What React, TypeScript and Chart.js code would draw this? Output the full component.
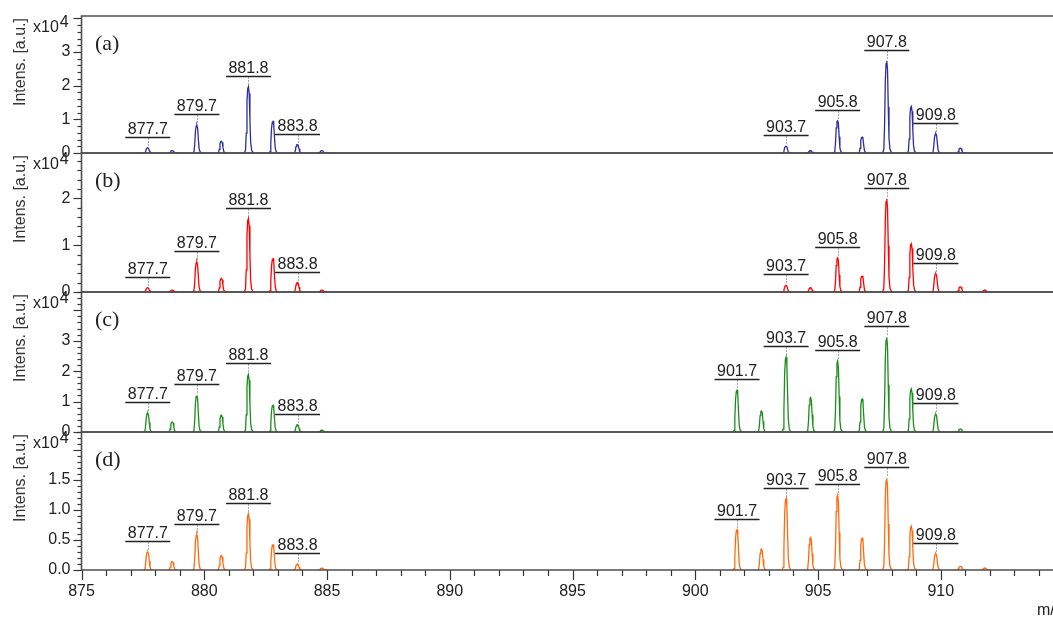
import React, { useEffect, useRef } from "react";
import { Chart, registerables } from "chart.js";

Chart.register(...registerables);

// m/z of every isotope peak in the two clusters
const PEAK_MZ = [
  877.7, 878.7, 879.7, 880.7, 881.8, 882.8, 883.8, 884.8,
  901.7, 902.7, 903.7, 904.7, 905.8, 906.8, 907.8, 908.8, 909.8, 910.8, 911.8,
];

// Peak intensities in units of 10^4 a.u., one entry per PEAK_MZ value
const INTENS_A = [0.15, 0.07, 0.82, 0.35, 1.97, 0.94, 0.25, 0.07, 0, 0, 0.2, 0.07, 0.96, 0.47, 2.74, 1.38, 0.57, 0.14, 0];
const INTENS_B = [0.09, 0.04, 0.64, 0.29, 1.57, 0.71, 0.2, 0.04, 0, 0, 0.14, 0.09, 0.73, 0.34, 1.99, 1.03, 0.39, 0.11, 0.04];
const INTENS_C = [0.62, 0.33, 1.2, 0.55, 1.89, 0.88, 0.24, 0.06, 1.37, 0.69, 2.46, 1.13, 2.33, 1.08, 3.11, 1.42, 0.58, 0.1, 0];
const INTENS_D = [0.3, 0.14, 0.59, 0.24, 0.94, 0.42, 0.1, 0.03, 0.67, 0.35, 1.19, 0.54, 1.25, 0.53, 1.53, 0.73, 0.27, 0.06, 0.03];

// Peaks that carry an m/z annotation
const LABELED_AB = [877.7, 879.7, 881.8, 883.8, 903.7, 905.8, 907.8, 909.8];
const LABELED_CD = [877.7, 879.7, 881.8, 883.8, 901.7, 903.7, 905.8, 907.8, 909.8];

// Axis tick labels
const X_TICK_LABELS = ["875", "880", "885", "890", "895", "900", "905", "910"];
const Y_TICK_LABELS_A = ["0", "1", "2", "3"];
const Y_TICK_LABELS_B = ["0", "1", "2"];
const Y_TICK_LABELS_C = ["0", "1", "2", "3"];
const Y_TICK_LABELS_D = ["0.0", "0.5", "1.0", "1.5"];

// Instrument peak profile around a centroid: m/z offset and fraction of apex height
const PEAK_SHAPE_DX = [-0.17, -0.12, -0.09, -0.06, -0.03, 0, 0.03, 0.06, 0.09, 0.13, 0.2];
const PEAK_SHAPE_REL = [0, 0.04, 0.3, 0.78, 0.97, 1, 0.9, 0.5, 0.16, 0.04, 0];

const X_MIN = 875;
const X_MAX = 914.57;

const SANS = "'Liberation Sans', Arial, sans-serif";
const SERIF = "'Liberation Serif', 'Times New Roman', serif";
const INK = "#222222";
const FRAME = "#4f4f4f";

type Panel = {
  id: string;
  tag: string;
  intens: number[];
  labeled: number[];
  tickLabels: string[];
  max: number;
  step: number;
  major: number;
  color: string;
  stackWeight: number;
  weight: number;
};

const PANELS: Panel[] = [
  { id: "yA", tag: "(a)", intens: INTENS_A, labeled: LABELED_AB, tickLabels: Y_TICK_LABELS_A, max: 4.07, step: 0.2, major: 1, color: "#2d2d9a", stackWeight: 137, weight: 4 },
  { id: "yB", tag: "(b)", intens: INTENS_B, labeled: LABELED_AB, tickLabels: Y_TICK_LABELS_B, max: 2.97, step: 0.2, major: 1, color: "#ff0000", stackWeight: 139, weight: 3 },
  { id: "yC", tag: "(c)", intens: INTENS_C, labeled: LABELED_CD, tickLabels: Y_TICK_LABELS_C, max: 4.6, step: 0.2, major: 1, color: "#1c8c1c", stackWeight: 140, weight: 2 },
  { id: "yD", tag: "(d)", intens: INTENS_D, labeled: LABELED_CD, tickLabels: Y_TICK_LABELS_D, max: 2.3, step: 0.1, major: 0.5, color: "#ff6a0e", stackWeight: 138, weight: 1 },
];

const near = (a: number, b: number) => Math.abs(a - b) < 1e-6;
const isMultiple = (v: number, m: number) => near(v / m, Math.round(v / m));

function profilePoints(intens: number[]) {
  const pts: { x: number; y: number | null }[] = [];
  PEAK_MZ.forEach((mz, i) => {
    const h = intens[i];
    if (!h) return;
    PEAK_SHAPE_DX.forEach((dx, k) => pts.push({ x: mz + dx, y: h * PEAK_SHAPE_REL[k] }));
    pts.push({ x: mz + 0.3, y: null });
  });
  return pts;
}

const decorPlugin = {
  id: "spectrumDecor",
  afterDatasetsDraw(chart: any) {
    const { ctx, chartArea } = chart;
    const xs = chart.scales.x;
    ctx.save();

    // x-axis tick marks (major every 5, minor every 1)
    ctx.strokeStyle = "#333";
    ctx.lineWidth = 1.2;
    xs.ticks.forEach((t: any) => {
      const px = Math.round(xs.getPixelForValue(t.value)) + 0.5;
      const len = isMultiple(t.value, 5) ? 10 : 6;
      ctx.beginPath();
      ctx.moveTo(px, chartArea.bottom);
      ctx.lineTo(px, chartArea.bottom + len);
      ctx.stroke();
    });

    PANELS.forEach((p) => {
      const ys = chart.scales[p.id];
      const left = chartArea.left;

      // y-axis tick marks
      ctx.strokeStyle = "#333";
      ctx.lineWidth = 1.2;
      ys.ticks.forEach((t: any) => {
        const py = Math.round(ys.getPixelForValue(t.value)) + 0.5;
        const len = isMultiple(t.value, p.major) ? 8 : 4;
        ctx.beginPath();
        ctx.moveTo(left - len, py);
        ctx.lineTo(left, py);
        ctx.stroke();
      });

      // panel frame
      ctx.strokeStyle = FRAME;
      ctx.lineWidth = 1.6;
      ctx.beginPath();
      ctx.moveTo(chartArea.right + 5, ys.top);
      ctx.lineTo(left, ys.top);
      ctx.lineTo(left, ys.bottom);
      ctx.lineTo(chartArea.right + 5, ys.bottom);
      ctx.stroke();

      // peak annotations
      p.labeled.forEach((mz) => {
        const idx = PEAK_MZ.findIndex((m) => near(m, mz));
        const h = p.intens[idx];
        const px = xs.getPixelForValue(mz);
        const apex = ys.getPixelForValue(h);
        const lineY = Math.round(apex - 11) + 0.5;
        ctx.setLineDash([1, 2]);
        ctx.strokeStyle = "#555";
        ctx.lineWidth = 1;
        ctx.beginPath();
        ctx.moveTo(Math.round(px) + 0.5, lineY + 1);
        ctx.lineTo(Math.round(px) + 0.5, apex - 1);
        ctx.stroke();
        ctx.setLineDash([]);
        ctx.strokeStyle = INK;
        ctx.lineWidth = 1.4;
        ctx.beginPath();
        ctx.moveTo(px - 22.5, lineY);
        ctx.lineTo(px + 22.5, lineY);
        ctx.stroke();
        ctx.fillStyle = INK;
        ctx.font = `16px ${SANS}`;
        ctx.textAlign = "center";
        ctx.textBaseline = "alphabetic";
        ctx.fillText(mz.toFixed(1), px, lineY - 4);
      });

      // panel tag
      ctx.fillStyle = INK;
      ctx.font = `22px ${SERIF}`;
      ctx.textAlign = "left";
      ctx.textBaseline = "middle";
      ctx.fillText(p.tag, 95, ys.top + 28);

      // exponent marker
      ctx.font = `16px ${SANS}`;
      ctx.fillStyle = INK;
      ctx.textBaseline = "middle";
      ctx.fillText("x10", 33, ys.top + 12);
      const w = ctx.measureText("x10").width;
      ctx.fillText("4", 33 + w + 1, ys.top + 7);

      // axis title
      ctx.save();
      ctx.translate(21, ys.top + 2);
      ctx.rotate(-Math.PI / 2);
      ctx.textAlign = "right";
      ctx.textBaseline = "middle";
      ctx.font = `16px ${SANS}`;
      ctx.fillStyle = "#333";
      ctx.fillText("Intens. [a.u.]", 0, 0);
      ctx.restore();
    });

    // x-axis title
    ctx.font = `16px ${SANS}`;
    ctx.fillStyle = INK;
    ctx.textAlign = "left";
    ctx.textBaseline = "alphabetic";
    ctx.fillText("m/z", 1037, 615);

    ctx.restore();
  },
};

export default function App() {
  const canvasRef = useRef<HTMLCanvasElement | null>(null);

  useEffect(() => {
    const canvas = canvasRef.current;
    if (!canvas) return;

    const scales: any = {
      x: {
        type: "linear",
        position: "bottom",
        min: X_MIN,
        max: X_MAX,
        grid: { display: false, drawTicks: false },
        border: { display: false },
        ticks: {
          stepSize: 1,
          includeBounds: false,
          autoSkip: false,
          maxRotation: 0,
          minRotation: 0,
          padding: 12,
          color: INK,
          font: { family: SANS, size: 16 },
          callback: (v: number) => {
            const s = String(Math.round(v));
            return isMultiple(v, 5) && X_TICK_LABELS.includes(s) ? s : "";
          },
        },
        afterFit: (s: any) => {
          s.height = 47;
          s.paddingLeft = 0;
          s.paddingRight = 0;
        },
      },
    };

    [...PANELS].reverse().forEach((p) => {
      scales[p.id] = {
        type: "linear",
        position: "left",
        stack: "spectra",
        stackWeight: p.stackWeight,
        weight: p.weight,
        min: 0,
        max: p.max,
        grid: { display: false, drawTicks: false },
        border: { display: false },
        ticks: {
          stepSize: p.step,
          includeBounds: false,
          autoSkip: false,
          padding: 11,
          color: INK,
          font: { family: SANS, size: 16 },
          callback: (v: number) => {
            const hit = p.tickLabels.find((l) => near(parseFloat(l), v));
            return hit ?? "";
          },
        },
        afterFit: (s: any) => {
          s.width = 81.5;
          s.paddingTop = 0;
          s.paddingBottom = 0;
        },
      };
    });

    const chart = new Chart(canvas, {
      type: "line",
      data: {
        datasets: PANELS.map((p) => ({
          label: p.tag,
          data: profilePoints(p.intens),
          xAxisID: "x",
          yAxisID: p.id,
          borderColor: p.color,
          borderWidth: 1.3,
          pointRadius: 0,
          tension: 0,
          spanGaps: false,
          fill: false,
        })),
      },
      options: {
        responsive: false,
        animation: false,
        devicePixelRatio: 1,
        layout: { padding: { top: 16, left: 0, right: 0, bottom: 0 } },
        plugins: {
          legend: { display: false },
          tooltip: { enabled: false },
        },
        scales,
      },
      plugins: [decorPlugin],
    });

    return () => chart.destroy();
  }, []);

  return (
    <div style={{ position: "fixed", left: 0, top: 0, width: 1053, height: 617, background: "#fff" }}>
      <canvas ref={canvasRef} width={1053} height={617} style={{ display: "block" }} />
    </div>
  );
}
